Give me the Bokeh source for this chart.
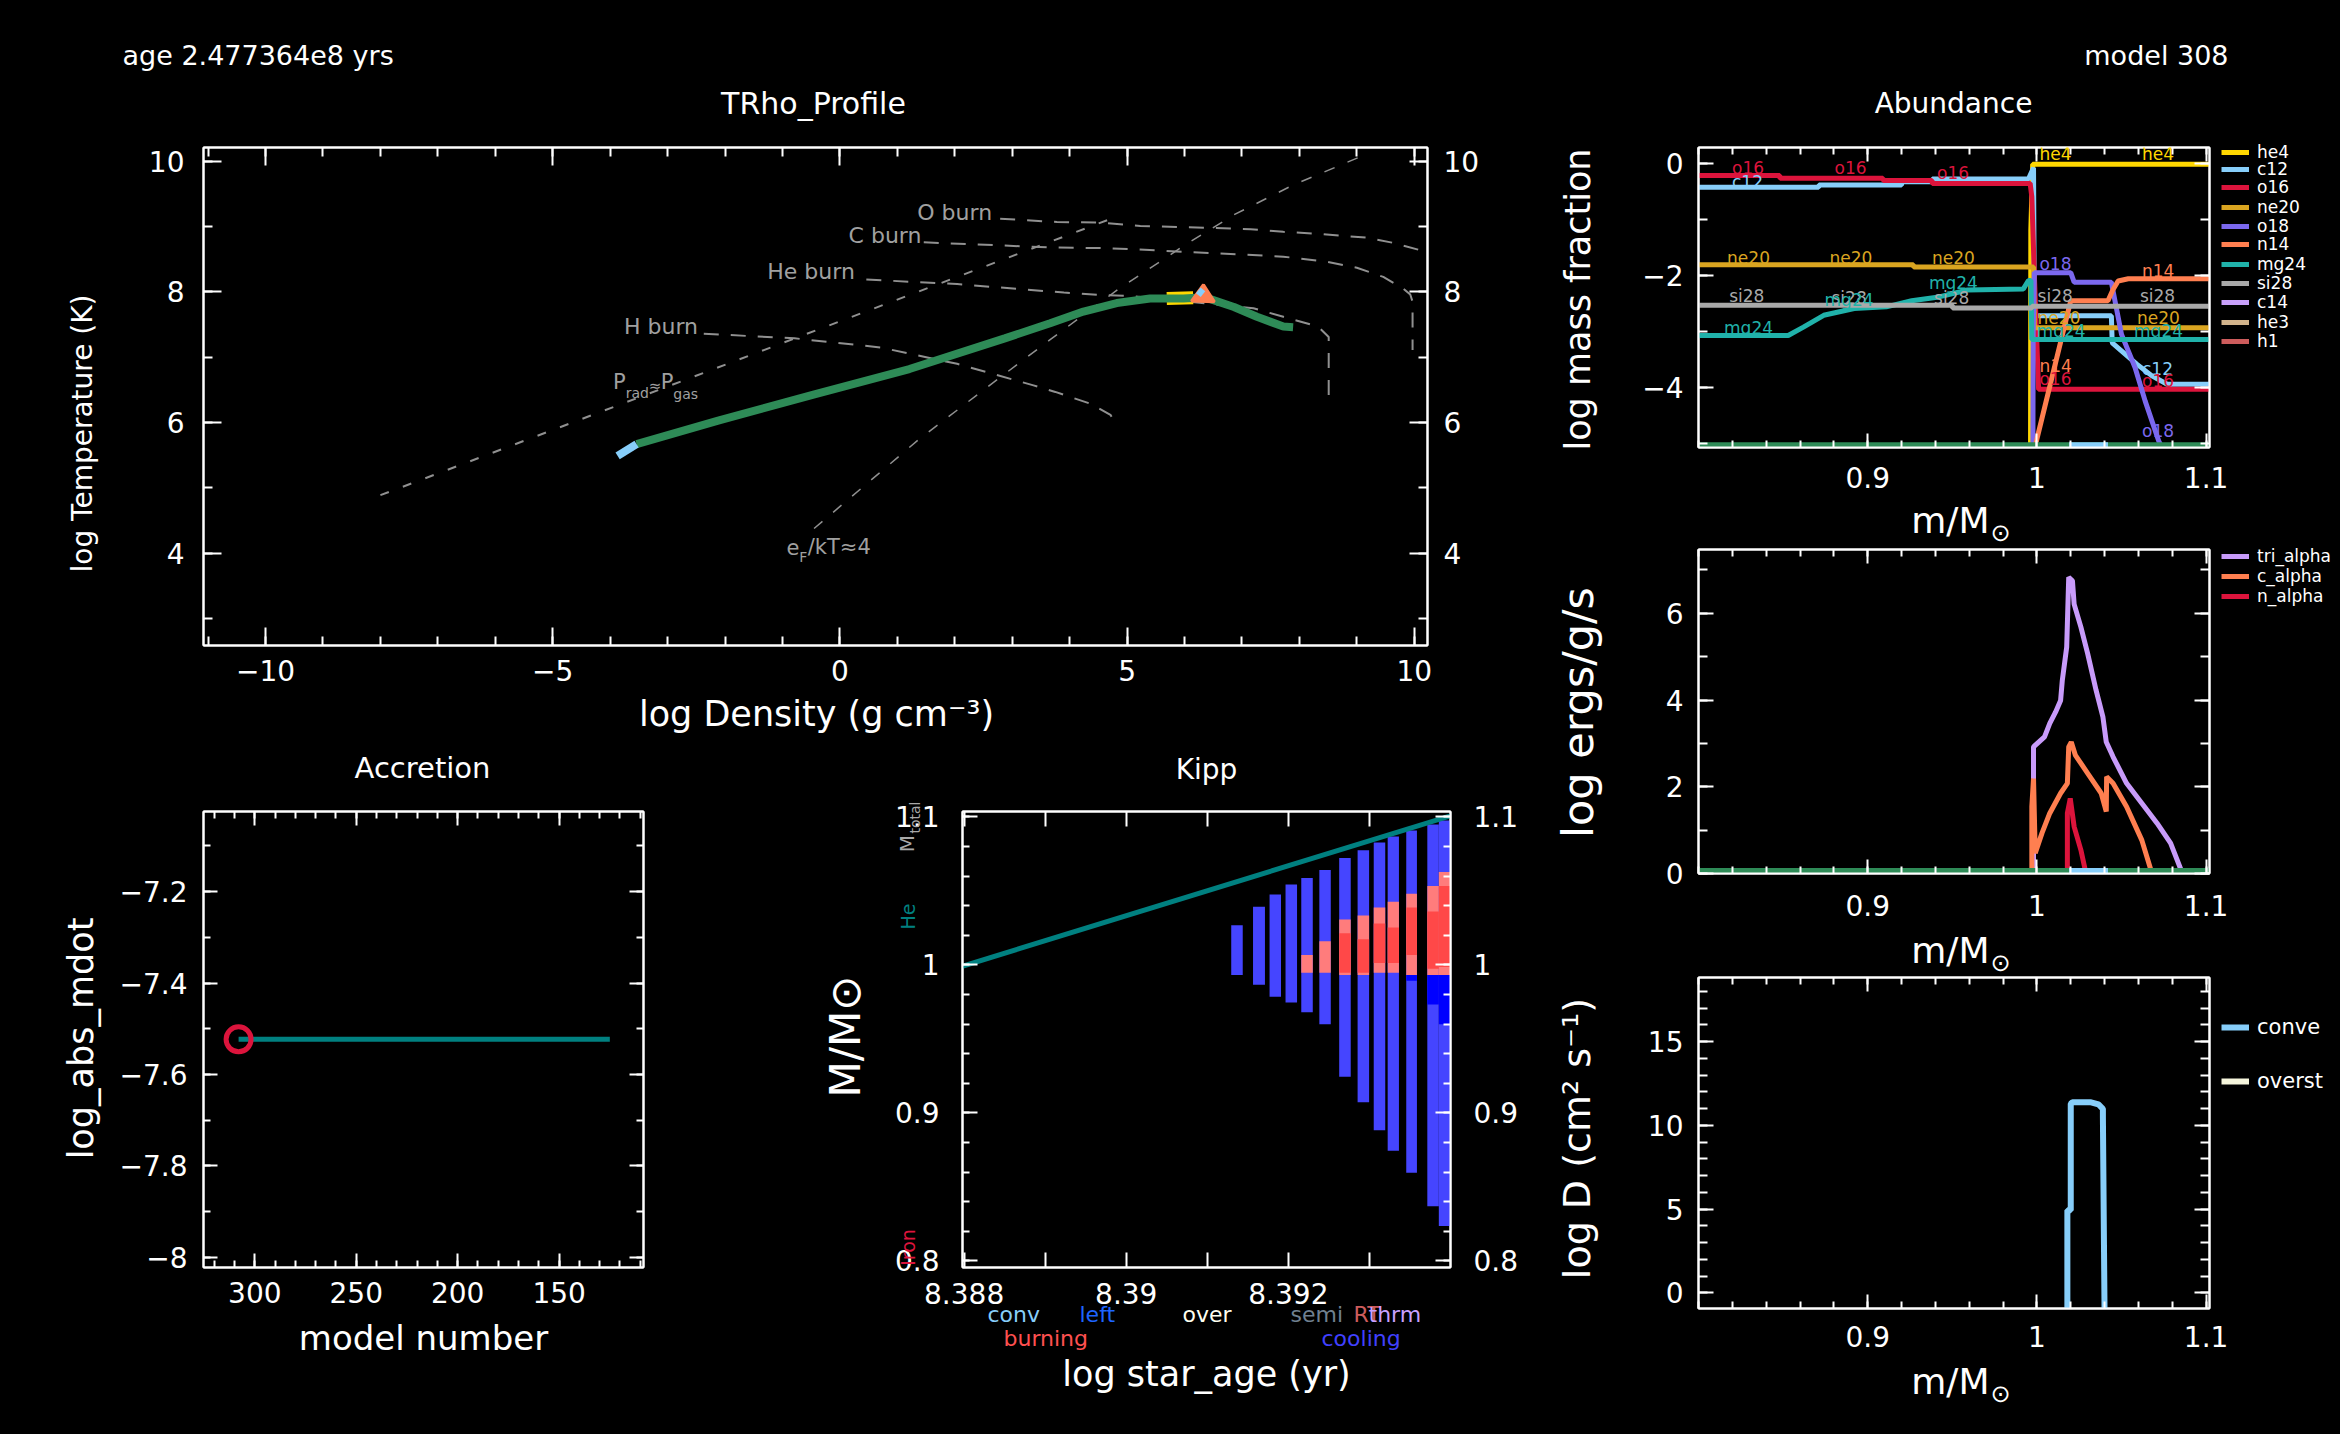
import math
from bokeh.plotting import figure
from bokeh.models import (Range1d, LinearAxis, FixedTicker, CustomJSTickFormatter,
                          Label, Legend, LegendItem, CustomJS, GridBox)
from bokeh.layouts import row, column
from bokeh.document import Document
from bokeh.events import DocumentReady
from bokeh.embed import file_html
from bokeh.resources import INLINE

FONT = "DejaVu Sans"
NAN = float("nan")

# ---------------------------------------------------------------- data
age_text = "age 2.477364e8 yrs"
model_text = "model 308"

# TRho profile (log rho, log T)
trho_logRho = [-3.54, -2.12, -0.46, 1.21, 2.87, 3.66, 4.24, 4.82, 5.40, 5.98, 6.21, 6.45, 6.86, 7.26, 7.72, 7.89]
trho_logT = [5.67, 6.03, 6.43, 6.82, 7.29, 7.52, 7.70, 7.83, 7.90, 7.90, 7.91, 7.89, 7.77, 7.62, 7.47, 7.46]
trho_surf_logRho = [-3.87, -3.54]
trho_surf_logT = [5.49, 5.67]
trho_yellow_logRho = [5.69, 6.15]
trho_yellow_logT = [7.90, 7.91]
trho_coral_logRho = [6.12, 6.33, 6.52]
trho_coral_logT = [7.86, 8.11, 7.85]
trho_conv_logRho = [6.24, 6.32]
trho_conv_logT = [7.95, 8.04]

# reference lines of the TRho diagram
hburn_logRho = [-2.37, -0.79, 0.71, 2.04, 3.37, 3.75, 4.36, 4.71, 4.82]
hburn_logT = [7.36, 7.29, 7.15, 6.90, 6.57, 6.47, 6.29, 6.12, 5.95]
heburn_logRho = [0.46, 2.04, 3.90, 4.59, 5.04, 7.20, 7.72, 8.24, 8.36, 8.51, 8.51]
heburn_logT = [8.19, 8.12, 7.99, 7.95, 7.94, 7.75, 7.62, 7.49, 7.44, 7.31, 6.24]
cburn_logRho = [1.46, 3.66, 4.59, 5.17, 6.10, 7.03, 7.72, 8.48, 9.00, 9.46, 9.81, 9.93, 9.97, 9.97]
cburn_logT = [8.76, 8.68, 8.67, 8.65, 8.61, 8.57, 8.54, 8.46, 8.37, 8.23, 8.05, 7.96, 7.85, 7.11]
oburn_logRho = [2.79, 3.78, 4.54, 5.23, 6.45, 7.15, 7.72, 8.31, 8.71, 9.17, 9.64, 10.1, 10.3]
oburn_logT = [9.12, 9.07, 9.06, 9.01, 8.98, 8.96, 8.92, 8.89, 8.86, 8.83, 8.75, 8.64, 8.60]
prad_logRho = [-8.0, 4.87]
prad_logT = [4.89, 9.17]
degen_logRho = [-0.45, 0.5, 1.37, 2.5, 3.66, 4.83, 6.01, 6.86, 7.90, 9.23]
degen_logT = [4.38, 5.09, 5.74, 6.50, 7.27, 8.03, 8.72, 9.18, 9.64, 10.13]

# Abundance profile: log mass fraction vs m/Msun
he4_m = [0.797, 0.9962, 0.9964, 0.9975, 1.103]
he4_x = [-6.0, -6.0, -1.2, -0.02, -0.02]
c12_m = [0.797, 0.871, 0.8712, 0.920, 0.9202, 0.938, 0.9382, 0.995, 0.998, 0.9985, 1.044, 1.0445, 1.059, 1.068, 1.077, 1.103]
c12_x = [-0.43, -0.43, -0.39, -0.39, -0.33, -0.33, -0.28, -0.28, -0.08, -2.72, -2.72, -3.20, -3.58, -3.79, -3.94, -3.94]
o16_m = [0.797, 0.848, 0.8482, 0.909, 0.9092, 0.938, 0.9382, 0.996, 0.997, 0.9985, 1.001, 1.103]
o16_x = [-0.22, -0.22, -0.27, -0.27, -0.31, -0.31, -0.36, -0.36, -0.60, -2.0, -4.03, -4.03]
ne20_m = [0.797, 0.927, 0.9272, 0.998, 0.9985, 1.103]
ne20_x = [-1.81, -1.81, -1.85, -1.85, -2.93, -2.93]
o18_m = [0.9976, 0.9978, 0.9985, 1.020, 1.022, 1.044, 1.050, 1.058, 1.064, 1.072, 1.076]
o18_x = [-5.5, -3.0, -1.95, -1.95, -2.12, -2.12, -3.05, -3.64, -4.24, -4.95, -5.2]
n14_m = [0.9985, 1.020, 1.042, 1.045, 1.048, 1.054, 1.103]
n14_x = [-5.1, -2.45, -2.45, -2.25, -2.10, -2.06, -2.06]
mg24_m = [0.797, 0.853, 0.862, 0.874, 0.892, 0.911, 0.926, 0.941, 0.959, 0.992, 0.995, 0.9965, 0.997, 1.103]
mg24_x = [-3.07, -3.07, -2.92, -2.71, -2.59, -2.56, -2.45, -2.39, -2.26, -2.24, -2.09, -2.09, -3.14, -3.14]
si28_m = [0.797, 0.95, 0.9502, 0.997, 0.9972, 1.103]
si28_x = [-2.53, -2.53, -2.58, -2.58, -2.55, -2.55]
abund_names = ["he4", "c12", "o16", "ne20", "o18", "n14", "mg24", "si28", "c14", "he3", "h1"]

# Power profile: log ergs/g/s
tri_alpha_m = [0.998, 0.998, 1.0045, 1.0076, 1.011, 1.014, 1.015, 1.0176, 1.0188, 1.021, 1.022, 1.026, 1.030, 1.035, 1.039, 1.041, 1.045, 1.053, 1.062, 1.071, 1.079, 1.086]
tri_alpha_eps = [0.0, 2.92, 3.15, 3.46, 3.72, 3.99, 4.45, 5.22, 6.83, 6.75, 6.21, 5.68, 5.07, 4.22, 3.61, 3.03, 2.69, 2.08, 1.62, 1.16, 0.70, 0.0]
c_alpha_m = [0.997, 0.997, 0.998, 0.999, 1.003, 1.0076, 1.014, 1.018, 1.0188, 1.0203, 1.0227, 1.030, 1.038, 1.041, 1.0412, 1.045, 1.053, 1.062, 1.068]
c_alpha_eps = [0.0, 1.54, 2.19, 0.47, 0.93, 1.39, 1.85, 2.08, 2.92, 3.03, 2.73, 2.31, 1.85, 1.43, 2.23, 2.08, 1.54, 0.77, 0.0]
n_alpha_m = [1.018, 1.018, 1.0197, 1.022, 1.026, 1.029]
n_alpha_eps = [0.0, 1.39, 1.73, 1.08, 0.54, 0.0]
power_names = ["tri_alpha", "c_alpha", "n_alpha"]

# Mixing profile: log D
conv_m = [1.018, 1.018, 1.020, 1.020, 1.021, 1.032, 1.0364, 1.039, 1.039, 1.040]
conv_logD = [-1.5, 4.93, 4.93, 11.29, 11.38, 11.38, 11.25, 10.99, 10.5, -1.5]
mixing_names = ["conve", "overst"]

# Accretion history
acc_model = [308, 125]
acc_log_mdot = [-7.523, -7.523]
acc_now_model = [308]
acc_now_log_mdot = [-7.523]

# Kippenhahn
kipp_conv_left = [8.391295, 8.391564, 8.391768, 8.391965, 8.392159, 8.392382, 8.392627, 8.392854, 8.393053, 8.393225, 8.393454, 8.393714, 8.393856]
kipp_conv_right = [8.391437, 8.391711, 8.391909, 8.392107, 8.392301, 8.392523, 8.392769, 8.392996, 8.393195, 8.393364, 8.393586, 8.393856, 8.394]
kipp_conv_top = [1.0268, 1.0393, 1.0476, 1.0543, 1.0588, 1.0641, 1.0722, 1.0775, 1.0828, 1.0868, 1.0909, 1.0949, 1.0976]
kipp_conv_bottom = [0.9933, 0.9867, 0.9786, 0.9747, 0.968, 0.96, 0.9244, 0.9073, 0.8884, 0.8745, 0.8597, 0.837, 0.8237]
kipp_burn_top = [1.0067, 1.0161, 1.0307, 1.0334, 1.0388, 1.0428, 1.0481, 1.0534, 1.0628]
kipp_burn_bottom = [0.9947, 0.9947, 0.9933, 0.9933, 0.9947, 0.9947, 0.9933, 0.9933, 0.9933]
kipp_hot_top = [1.0214, 1.0174, 1.0281, 1.0254, 1.0388, 1.0361, 1.0534]
kipp_hot_bottom = [0.9947, 0.9947, 1.0014, 1.0014, 1.0067, 0.9974, 0.9987]
kipp_cool_top = [0.9933, 0.9933, 0.9933]
kipp_cool_bottom = [0.9893, 0.9733, 0.96]
kipp_age = [8.38794, 8.39400]
kipp_he_mass = [0.9985, 1.1008]
kipp_legend_row1 = ["conv", "left", "over", "semi", "RT", "thrm"]
kipp_legend_row2 = ["burning", "cooling"]

# colours
C_HE4 = "#FFD700"; C_C12 = "#87CEFA"; C_O16 = "#DC143C"; C_NE20 = "#DAA520"
C_O18 = "#7B68EE"; C_N14 = "#FF7F50"; C_MG24 = "#20B2AA"; C_SI28 = "#A9A9A9"
C_C14 = "#C8A0FA"; C_HE3 = "#D2B48C"; C_H1 = "#CD5C5C"
C_TRI = "#C89BFA"; C_GREEN = "#2E8B57"; C_TEAL = "#008080"; C_REF = "#909090"
C_OVER = "#F5F5DC"

FMT = "var v = Math.round(tick*10000)/10000; return String(v).replace('-', '\\u2212');"
TICK_FS = "28px"

W_PAGE = 2336
H_PAGE = 1430


# ---------------------------------------------------------------- helpers
def make_panel(ox, oy, w, h, frame, xr, yr):
    fl, ft, fr, fb = frame
    return figure(width=w, height=h, x_range=Range1d(xr[0], xr[1]), y_range=Range1d(yr[0], yr[1]),
                  x_axis_type=None, y_axis_type=None, toolbar_location=None,
                  output_backend="svg", title=None,
                  min_border_left=fl - ox, min_border_right=ox + w - fr,
                  min_border_top=ft - oy, min_border_bottom=oy + h - fb,
                  background_fill_color="black", border_fill_color="black",
                  outline_line_color="white", outline_line_width=2)


def add_axis(p, side, major, minor, labels=True, maj=15, mnr=8, standoff=20):
    ax = LinearAxis(ticker=FixedTicker(ticks=major, minor_ticks=minor))
    ax.axis_line_color = "white"
    ax.axis_line_width = 2
    ax.major_tick_line_color = "white"
    ax.major_tick_line_width = 2
    ax.minor_tick_line_color = "white"
    ax.minor_tick_line_width = 2
    ax.major_tick_in = maj
    ax.major_tick_out = 0
    ax.minor_tick_in = mnr
    ax.minor_tick_out = 0
    if labels:
        ax.formatter = CustomJSTickFormatter(code=FMT)
        ax.major_label_text_color = "white"
        ax.major_label_text_font = FONT
        ax.major_label_text_font_size = TICK_FS
        ax.major_label_standoff = standoff
    else:
        ax.formatter = CustomJSTickFormatter(code="return '';")
        ax.major_label_text_font_size = "0px"
        ax.major_label_standoff = 0
    p.add_layout(ax, side)


def dlab(p, text, x, y, size, color, align="left", baseline="middle"):
    p.add_layout(Label(x=x, y=y, text=text, text_font=FONT, text_font_size=size,
                       text_color=color, text_align=align, text_baseline=baseline))


HALF_PI = math.pi / 2

# ---------------------------------------------------------------- TRho panel
F_TRHO = (203, 147, 1427, 645)
p_trho = make_panel(0, 0, 1540, 740, F_TRHO, (-11.08, 10.23), (2.59, 10.21))
xt_major = [-10, -5, 0, 5, 10]
xt_minor = list(range(-11, 11))
yt_major = [4, 6, 8, 10]
yt_minor = list(range(3, 11))
add_axis(p_trho, "below", xt_major, xt_minor, maj=18, mnr=9, standoff=14)
add_axis(p_trho, "above", xt_major, xt_minor, labels=False, maj=18, mnr=9)
add_axis(p_trho, "left", yt_major, yt_minor, maj=18, mnr=9, standoff=19)
add_axis(p_trho, "right", yt_major, yt_minor, maj=18, mnr=9, standoff=16)

for xs, ys in [(hburn_logRho, hburn_logT), (heburn_logRho, heburn_logT),
               (cburn_logRho, cburn_logT), (oburn_logRho, oburn_logT)]:
    p_trho.line(xs, ys, line_color=C_REF, line_width=2, line_dash="15 12")
p_trho.line(prad_logRho, prad_logT, line_color=C_REF, line_width=2, line_dash="9 15")
p_trho.line(degen_logRho, degen_logT, line_color=C_REF, line_width=1.5, line_dash="11 14")

p_trho.line(trho_yellow_logRho, trho_yellow_logT, line_color=C_HE4, line_width=13)
p_trho.line(trho_logRho, trho_logT, line_color=C_GREEN, line_width=8)
p_trho.patch(trho_coral_logRho, trho_coral_logT, fill_color=C_N14, line_color=C_N14, line_width=3)
p_trho.line(trho_conv_logRho, trho_conv_logT, line_color=C_C12, line_width=6)
p_trho.line(trho_surf_logRho, trho_surf_logT, line_color=C_C12, line_width=8)

REFTXT = "#A0A0A0"
dlab(p_trho, "O burn", 2.65, 9.21, "22px", REFTXT, align="right")
dlab(p_trho, "C burn", 1.42, 8.87, "22px", REFTXT, align="right")
dlab(p_trho, "He burn", 0.26, 8.32, "22px", REFTXT, align="right")
dlab(p_trho, "H burn", -2.47, 7.47, "22px", REFTXT, align="right")
dlab(p_trho, "P", -3.95, 6.62, "21px", REFTXT)
dlab(p_trho, "rad", -3.73, 6.46, "14px", REFTXT)
dlab(p_trho, "\u2248", -3.33, 6.56, "15px", REFTXT)
dlab(p_trho, "P", -3.12, 6.62, "21px", REFTXT)
dlab(p_trho, "gas", -2.90, 6.44, "14px", REFTXT)
dlab(p_trho, "e", -0.93, 4.10, "21px", REFTXT)
dlab(p_trho, "F", -0.71, 3.95, "14px", REFTXT)
dlab(p_trho, "/kT\u22484", -0.56, 4.10, "21px", REFTXT)

# ---------------------------------------------------------------- Accretion panel
F_ACC = (203, 811, 643, 1267)
p_acc = make_panel(0, 740, 800, H_PAGE - 740, F_ACC, (325.3, 108.4), (-8.022, -7.025))
ax_major = [300, 250, 200, 150]
ax_minor = list(range(110, 330, 10))
ay_major = [-8.0, -7.8, -7.6, -7.4, -7.2]
ay_minor = [-8.0 + 0.1 * i for i in range(10)]
add_axis(p_acc, "below", ax_major, ax_minor, maj=14, mnr=7, standoff=14)
add_axis(p_acc, "above", ax_major, ax_minor, labels=False, maj=14, mnr=7)
add_axis(p_acc, "left", ay_major, ay_minor, maj=14, mnr=7, standoff=16)
add_axis(p_acc, "right", ay_major, ay_minor, labels=False, maj=14, mnr=7)
p_acc.line(acc_model, acc_log_mdot, line_color=C_TEAL, line_width=5)
p_acc.scatter(acc_now_model, acc_now_log_mdot, marker="circle", size=25,
              fill_color=None, line_color=C_O16, line_width=5)

# ---------------------------------------------------------------- Kipp panel
F_KIPP = (962, 811, 1450, 1267)
p_kipp = make_panel(800, 740, 740, H_PAGE - 740, F_KIPP, (8.38798, 8.39400), (0.7956, 1.1037))
kx_major = [8.388, 8.390, 8.392]
kx_minor = [8.389, 8.391, 8.393]
ky_major = [0.8, 0.9, 1.0, 1.1]
ky_minor = [round(0.8 + 0.02 * i, 2) for i in range(16)]
add_axis(p_kipp, "below", kx_major, kx_minor, maj=15, mnr=15, standoff=15)
add_axis(p_kipp, "above", kx_major, kx_minor, labels=False, maj=15, mnr=15)
add_axis(p_kipp, "left", ky_major, ky_minor, maj=15, mnr=7, standoff=23)
add_axis(p_kipp, "right", ky_major, ky_minor, maj=15, mnr=7, standoff=23)

p_kipp.quad(left=kipp_conv_left, right=kipp_conv_right, top=kipp_conv_top,
            bottom=kipp_conv_bottom, fill_color="#4545FF", line_color=None)
p_kipp.quad(left=kipp_conv_left[4:], right=kipp_conv_right[4:], top=kipp_burn_top,
            bottom=kipp_burn_bottom, fill_color="#FF7C7C", line_color=None)
p_kipp.quad(left=kipp_conv_left[6:], right=kipp_conv_right[6:], top=kipp_hot_top,
            bottom=kipp_hot_bottom, fill_color="#FF4848", line_color=None)
p_kipp.quad(left=kipp_conv_left[10:], right=kipp_conv_right[10:], top=kipp_cool_top,
            bottom=kipp_cool_bottom, fill_color="#0000FF", line_color=None)
p_kipp.line(kipp_age, kipp_he_mass, line_color=C_TEAL, line_width=5)

# ---------------------------------------------------------------- right column shared ticks
mx_major = [0.9, 1.0, 1.1]
mx_minor = [round(0.8 + 0.02 * i, 2) for i in range(16)]
RW = W_PAGE - 1540

# ---------------------------------------------------------------- Abundance panel
F_AB = (1698, 147, 2209, 447)
p_ab = make_panel(1540, 0, RW, 543, F_AB, (0.8, 1.102), (-5.066, 0.28))
add_axis(p_ab, "below", mx_major, mx_minor, maj=14, mnr=7, standoff=19)
add_axis(p_ab, "above", mx_major, mx_minor, labels=False, maj=14, mnr=7)
add_axis(p_ab, "left", [-4, -2, 0], [-5, -4, -3, -2, -1, 0], maj=15, mnr=9, standoff=15)
add_axis(p_ab, "right", [-4, -2, 0], [-5, -4, -3, -2, -1, 0], labels=False, maj=15, mnr=9)

LW = 5
p_ab.line(he4_m, he4_x, line_color=C_HE4, line_width=LW)
p_ab.line(c12_m, c12_x, line_color=C_C12, line_width=LW)
p_ab.line(o16_m, o16_x, line_color=C_O16, line_width=LW)
p_ab.line(ne20_m, ne20_x, line_color=C_NE20, line_width=LW)
p_ab.line(o18_m, o18_x, line_color=C_O18, line_width=LW)
p_ab.line(n14_m, n14_x, line_color=C_N14, line_width=LW)
p_ab.line(mg24_m, mg24_x, line_color=C_MG24, line_width=LW)
p_ab.line(si28_m, si28_x, line_color=C_SI28, line_width=LW)
p_ab.line([0.8, 1.102], [-5.035, -5.035], line_color=C_GREEN, line_width=7)
p_ab.line([1.019, 1.042], [-5.035, -5.035], line_color=C_C12, line_width=7)

ab_labels = [
    ("o16", 0.8198, -0.077, C_O16), ("o16", 0.8804, -0.094, C_O16), ("o16", 0.9410, -0.166, C_O16),
    ("c12", 0.8198, -0.330, C_C12),
    ("ne20", 0.8169, -1.681, C_NE20), ("ne20", 0.8774, -1.681, C_NE20), ("ne20", 0.9380, -1.681, C_NE20),
    ("si28", 0.8181, -2.358, C_SI28), ("si28", 0.8786, -2.394, C_SI28), ("si28", 0.9392, -2.394, C_SI28),
    ("mg24", 0.8151, -2.929, C_MG24), ("mg24", 0.8745, -2.430, C_MG24), ("mg24", 0.9362, -2.127, C_MG24),
    ("he4", 1.0015, 0.173, C_HE4), ("he4", 1.0621, 0.173, C_HE4),
    ("o18", 1.0015, -1.788, C_O18), ("n14", 1.0621, -1.913, C_N14),
    ("si28", 1.0004, -2.358, C_SI28), ("si28", 1.0609, -2.358, C_SI28),
    ("ne20", 1.0004, -2.751, C_NE20), ("ne20", 1.0591, -2.751, C_NE20),
    ("mg24", 0.9998, -2.983, C_MG24), ("mg24", 1.0574, -2.983, C_MG24),
    ("n14", 1.0015, -3.606, C_N14), ("o16", 1.0015, -3.838, C_O16),
    ("c12", 1.0621, -3.659, C_C12), ("o16", 1.0621, -3.873, C_O16),
    ("o18", 1.0621, -4.765, C_O18),
]
for t, x, y, c in ab_labels:
    dlab(p_ab, t, x, y, "17px", c)

# ---------------------------------------------------------------- Power panel
F_PW = (1698, 549, 2209, 873)
p_pw = make_panel(1540, 543, RW, 429, F_PW, (0.8, 1.102), (0.0, 7.47))
add_axis(p_pw, "below", mx_major, mx_minor, maj=14, mnr=7, standoff=21)
add_axis(p_pw, "above", mx_major, mx_minor, labels=False, maj=14, mnr=7)
add_axis(p_pw, "left", [0, 2, 4, 6], [0, 1, 2, 3, 4, 5, 6, 7], maj=15, mnr=9, standoff=15)
add_axis(p_pw, "right", [0, 2, 4, 6], [0, 1, 2, 3, 4, 5, 6, 7], labels=False, maj=15, mnr=9)
p_pw.line(tri_alpha_m, tri_alpha_eps, line_color=C_TRI, line_width=LW)
p_pw.line(c_alpha_m, c_alpha_eps, line_color=C_N14, line_width=LW)
p_pw.line(n_alpha_m, n_alpha_eps, line_color=C_O16, line_width=LW)
p_pw.line([0.8, 1.102], [0.045, 0.045], line_color=C_GREEN, line_width=7)
p_pw.line([1.019, 1.042], [0.045, 0.045], line_color=C_C12, line_width=7)

# ---------------------------------------------------------------- Mixing panel
F_MX = (1698, 977, 2209, 1308)
p_mx = make_panel(1540, 972, RW, H_PAGE - 972, F_MX, (0.8, 1.102), (-0.93, 18.83))
add_axis(p_mx, "below", mx_major, mx_minor, maj=14, mnr=7, standoff=17)
add_axis(p_mx, "above", mx_major, mx_minor, labels=False, maj=14, mnr=7)
add_axis(p_mx, "left", [0, 5, 10, 15], list(range(0, 19)), maj=15, mnr=9, standoff=15)
add_axis(p_mx, "right", [0, 5, 10, 15], list(range(0, 19)), labels=False, maj=15, mnr=9)
p_mx.line(conv_m, conv_logD, line_color=C_C12, line_width=6)

# ---------------------------------------------------------------- overlay with page texts and legends
ov = figure(width=W_PAGE, height=H_PAGE, x_range=Range1d(0, W_PAGE), y_range=Range1d(H_PAGE, 0),
            x_axis_type=None, y_axis_type=None, toolbar_location=None, output_backend="svg",
            title=None, min_border=0, min_border_left=0, min_border_right=0,
            min_border_top=0, min_border_bottom=0, outline_line_color=None,
            background_fill_color=None, border_fill_color=None)


def txt(text, x, y, size, color="white", align="center", angle=0.0):
    ov.add_layout(Label(x=x, y=y, text=text, text_font=FONT, text_font_size=size,
                        text_color=color, text_align=align, text_baseline="middle", angle=angle))


def ov_legend(text, color, width, rx, cy, size, gh):
    r = ov.line([NAN], [NAN], line_color=color, line_width=width)
    lg = Legend(items=[LegendItem(label=text, renderers=[r])],
                location=(rx, H_PAGE - (cy + gh / 2)), orientation="vertical",
                padding=0, margin=0, spacing=0, glyph_width=28, glyph_height=gh,
                label_height=gh, label_standoff=8,
                label_text_font=FONT, label_text_font_size=size, label_text_color="white",
                background_fill_alpha=0, border_line_alpha=0)
    ov.add_layout(lg)


# page header
txt(age_text, 122, 55, "27px", align="left")
txt(model_text, 2228, 55, "27px", align="right")
# TRho
txt("TRho_Profile", 813, 103, "30px")
txt("log Density (g cm\u207b\u00b3)", 816, 713, "35px")
txt("log Temperature (K)", 82, 433, "28px", angle=HALF_PI)
# Accretion
txt("Accretion", 422, 767, "29px")
txt("model number", 423, 1337, "34px")
txt("log_abs_mdot", 80, 1038, "35px", angle=HALF_PI)
# Kipp
txt("Kipp", 1206, 769, "28px")
txt("log star_age (yr)", 1206, 1373, "35px")
txt("M/M\u2299", 845, 1036, "42px", angle=HALF_PI)
txt("M", 906, 843, "20px", color="#A9A9A9", angle=HALF_PI)
txt("total", 914, 817, "14px", color="#A9A9A9", angle=HALF_PI)
txt("He", 907, 916, "19px", color=C_TEAL, angle=HALF_PI)
txt("Iron", 907, 1247, "19px", color=C_O16, angle=HALF_PI)
row1_x = [987, 1079, 1182, 1290, 1353, 1368]
row1_c = [C_C12, "#1E64FF", "#FFFFF0", "#708090", "#CD5C5C", "#C8A0FF"]
for t, x, c in zip(kipp_legend_row1, row1_x, row1_c):
    txt(t, x, 1314, "22px", color=c, align="left")
for t, x, c in zip(kipp_legend_row2, [1003, 1321], ["#FF5050", "#4040FF"]):
    txt(t, x, 1338, "22px", color=c, align="left")
# right column
txt("Abundance", 1953, 103, "28px")
txt("log mass fraction", 1577, 299, "35px", angle=HALF_PI)
for yc in (520, 950, 1381):
    txt("m/M", 1989, yc, "36px", align="right")
    txt("\u2299", 1990, yc + 12, "24px", align="left")
txt("log ergs/g/s", 1577, 712, "43px", angle=HALF_PI)
txt("log D (cm\u00b2 s\u207b\u00b9)", 1576, 1138, "38px", angle=HALF_PI)

ab_colors = [C_HE4, C_C12, C_O16, C_NE20, C_O18, C_N14, C_MG24, C_SI28, C_C14, C_HE3, C_H1]
ab_leg_y = [153, 170, 188, 208, 227, 245, 265, 284, 303, 323, 342]
for t, c, cy in zip(abund_names, ab_colors, ab_leg_y):
    ov_legend(t, c, 5, 2221, cy, "17px", 18)
for t, c, cy in zip(power_names, [C_TRI, C_N14, C_O16], [557, 577, 597]):
    ov_legend(t, c, 5, 2221, cy, "17px", 18)
for t, c, cy in zip(mixing_names, [C_C12, C_OVER], [1027, 1081]):
    ov_legend(t, c, 6, 2221, cy, "21px", 24)

# ---------------------------------------------------------------- layout
left_col = column(p_trho, row(p_acc, p_kipp, spacing=0), spacing=0)
right_col = column(p_ab, p_pw, p_mx, spacing=0)
page = row(left_col, right_col, spacing=0)
grid = GridBox(children=[(page, 0, 0), (ov, 0, 0)])

doc = Document()
doc.add_root(grid)
try:
    doc.js_on_event(DocumentReady, CustomJS(code="document.body.style.background = 'black';"))
except Exception:
    pass

p = grid
open("out.html", "w", encoding="utf-8").write(file_html(p, INLINE))
